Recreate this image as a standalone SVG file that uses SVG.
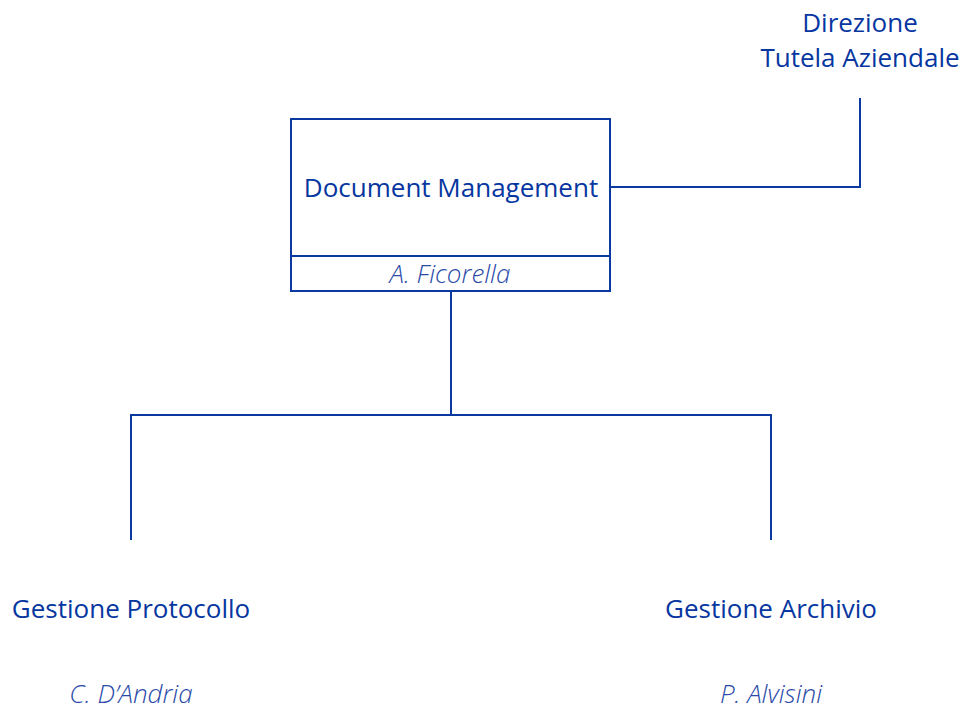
<svg xmlns="http://www.w3.org/2000/svg" width="961" height="714" viewBox="0 0 961 714">
<style>
.ln{fill:none;stroke:#0a3aa0;stroke-width:2}
.t{font-family:"Open Sans","Liberation Sans",sans-serif;font-size:26px;fill:#0636a0;text-anchor:middle}
.i{font-family:"Open Sans","Liberation Sans",sans-serif;font-size:26px;font-style:italic;font-weight:300;fill:#2a4aa8;text-anchor:middle}
</style>
<rect width="961" height="714" fill="#ffffff"/>
<g id="connectors">
<path class="ln" d="M610,187 H860 V98"/>
<path class="ln" d="M451,292 V415 M131,540 V415 H771 V540"/>
</g>
<g id="node-direzione">
<text class="t" x="860" y="32">Direzione</text>
<text class="t" x="860" y="67">Tutela Aziendale</text>
</g>
<g id="node-document">
<rect class="ln" x="291" y="119" width="319" height="172"/>
<line class="ln" x1="291" y1="256" x2="610" y2="256"/>
<text class="t" x="451" y="197">Document Management</text>
<text class="i" x="450" y="283">A. Ficorella</text>
</g>
<g id="node-protocollo">
<text class="t" x="131" y="618">Gestione Protocollo</text>
<text class="i" x="131" y="703">C. D’Andria</text>
</g>
<g id="node-archivio">
<text class="t" x="771" y="618">Gestione Archivio</text>
<text class="i" x="771" y="703">P. Alvisini</text>
</g>
</svg>
